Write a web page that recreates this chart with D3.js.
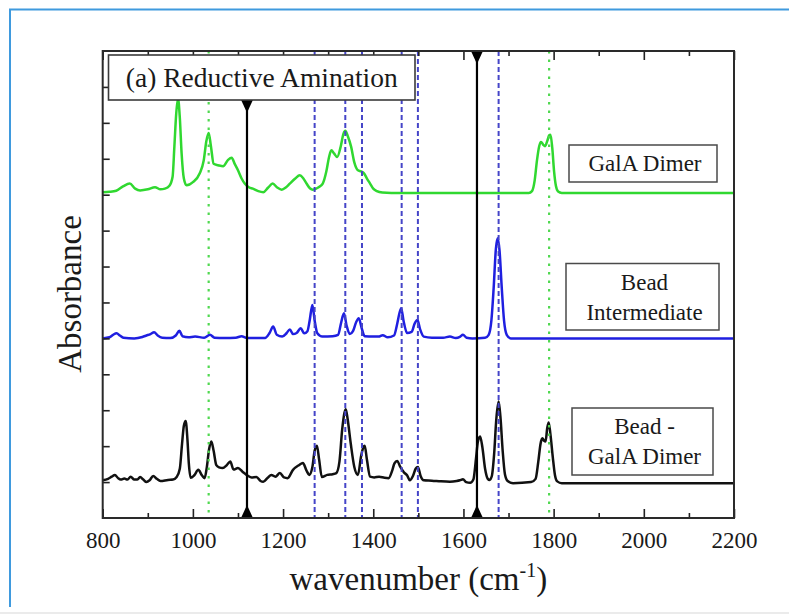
<!DOCTYPE html>
<html>
<head>
<meta charset="utf-8">
<script src="https://cdn.jsdelivr.net/npm/d3@7"></script>
<style>
  html, body { margin: 0; padding: 0; background: #fff; }
  svg { display: block; }
</style>
</head>
<body>
<svg id="chart" width="789" height="616"></svg>
<script>
// ---- FTIR spectra: [wavenumber (cm^-1), absorbance above the trace's own baseline] ----
const galaDimer = [
  [800,0.02],[815,0.03],[830,0.06],[845,0.18],[860,0.26],[872,0.12],[883,0.07],[900,0.1],
  [916,0.16],[928,0.1],[938,0.12],[948,0.2],[955,0.45],[959,1.3],[963,2.2],[967,2.63],
  [971,2.1],[975,1.1],[980,0.4],[986,0.21],[1000,0.3],[1015,0.54],[1024,0.9],[1030,1.45],
  [1035,1.67],[1040,1.3],[1046,0.81],[1056,0.77],[1067,0.74],[1078,0.92],[1086,0.98],
  [1093,0.8],[1100,0.63],[1108,0.4],[1115,0.26],[1125,0.15],[1133,0.12],[1145,0.05],
  [1156,0.02],[1167,0.15],[1177,0.26],[1187,0.15],[1197,0.09],[1206,0.15],[1215,0.26],
  [1227,0.4],[1237,0.49],[1245,0.4],[1252,0.26],[1260,0.12],[1266,0.09],[1278,0.15],
  [1288,0.26],[1296,0.6],[1302,1.0],[1307,1.19],[1313,1.1],[1320,1.0],[1328,1.3],
  [1334,1.65],[1338,1.73],[1343,1.6],[1351,1.28],[1358,0.85],[1366,0.63],[1373,0.6],
  [1379,0.55],[1386,0.4],[1393,0.26],[1400,0.12],[1408,0.05],[1420,0.01],[1440,0],
  [1745,0],[1752,0.05],[1758,0.35],[1763,0.9],[1768,1.3],[1772,1.42],[1777,1.34],
  [1781,1.3],[1786,1.45],[1790,1.6],[1793,1.62],[1797,1.25],[1801,0.6],[1805,0.2],
  [1810,0.04],[1818,0],[2200,0]
];

const beadIntermediate = [
  [800,0],[815,0.03],[823,0.1],[831,0.14],[838,0.08],[846,0.02],[870,0],[888,0.04],
  [897,0.08],[906,0.12],[914,0.17],[922,0.08],[932,0.02],[950,0.01],[962,0.08],[970,0.21],
  [977,0.06],[990,0.03],[1005,0.05],[1025,0.02],[1038,0.1],[1048,0.02],[1070,0.01],
  [1095,0.02],[1108,0.06],[1120,0.01],[1160,0.01],[1170,0.15],[1178,0.33],[1186,0.1],
  [1198,0.05],[1208,0.15],[1215,0.25],[1222,0.12],[1230,0.15],[1239,0.28],[1247,0.14],
  [1254,0.2],[1259,0.5],[1265,0.93],[1270,0.5],[1276,0.14],[1287,0.05],[1310,0.06],
  [1322,0.1],[1329,0.45],[1335,0.7],[1341,0.35],[1348,0.12],[1355,0.2],[1362,0.45],
  [1368,0.56],[1374,0.3],[1381,0.06],[1400,0.05],[1412,0.05],[1421,0.09],[1432,0.03],
  [1446,0.08],[1453,0.4],[1458,0.7],[1462,0.84],[1467,0.5],[1475,0.15],[1485,0.18],
  [1492,0.42],[1498,0.51],[1504,0.25],[1512,0.05],[1530,0.02],[1555,0.02],[1570,0.05],
  [1583,0.01],[1592,0.04],[1599,0.1],[1607,0.02],[1620,0],[1648,0.02],[1656,0.1],
  [1662,0.5],[1667,1.4],[1672,2.5],[1676,2.79],[1680,2.45],[1685,1.4],[1690,0.5],
  [1696,0.1],[1705,0],[2200,0]
];

const beadMinusGala = [
  [800,0.08],[812,0.12],[820,0.18],[827,0.23],[834,0.14],[840,0.1],[848,0.13],[855,0.1],
  [862,0.18],[870,0.1],[877,0.1],[883,0.17],[890,0.1],[897,0.03],[904,0.08],[912,0.2],
  [920,0.12],[928,0.06],[945,0.09],[956,0.1],[964,0.17],[971,0.4],[976,1.1],[980,1.6],
  [984,1.73],[988,1.2],[991,0.55],[995,0.15],[1003,0.22],[1012,0.37],[1020,0.22],
  [1026,0.14],[1031,0.45],[1036,0.95],[1041,1.16],[1046,0.9],[1052,0.5],[1058,0.44],
  [1066,0.42],[1075,0.5],[1083,0.6],[1090,0.38],[1100,0.42],[1110,0.32],[1119,0.23],
  [1130,0.16],[1141,0.17],[1150,0.06],[1156,0.04],[1166,0.15],[1174,0.23],[1183,0.18],
  [1193,0.28],[1202,0.16],[1210,0.14],[1222,0.37],[1235,0.5],[1244,0.56],[1252,0.35],
  [1258,0.23],[1265,0.45],[1270,0.9],[1275,1.04],[1280,0.65],[1286,0.17],[1298,0.23],
  [1310,0.25],[1318,0.28],[1325,0.6],[1331,1.48],[1336,1.95],[1339,2.06],[1343,1.8],
  [1350,1.11],[1358,0.45],[1366,0.23],[1373,0.75],[1378,1.0],[1381,1.04],[1386,0.65],
  [1393,0.18],[1402,0.16],[1413,0.18],[1425,0.15],[1434,0.14],[1442,0.35],[1447,0.55],
  [1453,0.62],[1460,0.45],[1468,0.3],[1475,0.22],[1481,0.08],[1488,0.2],[1494,0.4],
  [1499,0.45],[1505,0.2],[1512,0.08],[1530,0.07],[1550,0.05],[1570,0.04],[1585,0.06],
  [1592,0.08],[1599,0.11],[1606,0.03],[1615,0.01],[1622,0.1],[1628,0.7],[1632,1.15],
  [1637,1.3],[1642,1.0],[1648,0.4],[1654,0.12],[1658,0.09],[1663,0.2],[1668,0.8],
  [1673,1.8],[1678,2.27],[1682,1.85],[1687,0.9],[1692,0.25],[1698,0.06],[1710,0],
  [1750,0.03],[1760,0.12],[1766,0.6],[1771,1.1],[1775,1.25],[1779,1.18],[1782,1.16],
  [1786,1.55],[1789,1.69],[1793,1.35],[1798,0.74],[1803,0.22],[1808,0.05],[1818,0],[2200,0]
];

// vertical stacking offsets of the three traces (absorbance units)
const traceOffsets = [9.05, 5.0, 0.97];
const traceColors = ["#30d830", "#1f1fe0", "#111111"];
const traceLabels = [["GalA Dimer"], ["Bead", "Intermediate"], ["Bead -", "GalA Dimer"]];

// guide lines (cm^-1)
const blueGuides = [1270, 1338, 1375, 1463, 1499, 1678];
const greenGuides = [1035, 1790];
const blackMarkers = [1120, 1630];
const blackMarkerTops = [11.64, 13];

// axes
const xDomain = [800, 2200];
const yDomain = [0, 13];
const xMajorTicks = [800, 1000, 1200, 1400, 1600, 1800, 2000, 2200];
const xMinorTicks = [900, 1100, 1300, 1500, 1700, 1900, 2100];
const yTicks = [1, 2, 3, 4, 5, 6, 7, 8, 9, 10, 11, 12];

const panelTitle = "(a) Reductive Amination";
const xTitle = "wavenumber (cm";
const xTitleSup = "-1";
const yTitle = "Absorbance";

// ---- layout ----
const SERIF = "'Liberation Serif', 'Times New Roman', Times, serif";
const plot = { left: 102.7, right: 734, top: 51, bottom: 518 };
const svg = d3.select("#chart");

const x = d3.scaleLinear().domain(xDomain).range([plot.left, plot.right]);
const y = d3.scaleLinear().domain(yDomain).range([plot.bottom, plot.top]);

const addText = (sel, str, size) => sel.append("text")
  .attr("font-family", SERIF).style("font-family", SERIF)
  .attr("font-size", size).attr("fill", "#1a1a1a").text(str);

// page border of the figure panel
svg.append("rect").attr("width", 789).attr("height", 616).attr("fill", "#fff");
svg.append("path").attr("d", "M10,607V9.5H789")
  .attr("fill", "none").attr("stroke", "#3f9ade").attr("stroke-width", 2);
svg.append("line").attr("x1", 0).attr("x2", 789).attr("y1", 613).attr("y2", 613)
  .attr("stroke", "#e4e4e4").attr("stroke-width", 1.5);

// traces
const series = [galaDimer, beadIntermediate, beadMinusGala];
const gTraces = svg.append("g");
series.forEach((pts, i) => {
  const line = d3.line()
    .x(d => x(d[0]))
    .y(d => y(d[1] + traceOffsets[i]))
    .curve(d3.curveMonotoneX);
  gTraces.append("path")
    .datum(pts)
    .attr("d", line)
    .attr("fill", "none")
    .attr("stroke", traceColors[i])
    .attr("stroke-width", 2.5)
    .attr("stroke-linejoin", "round");
});

// guide lines
const gGuides = svg.append("g");
gGuides.selectAll("line.blue").data(blueGuides).join("line")
  .attr("class", "blue")
  .attr("x1", d => x(d)).attr("x2", d => x(d))
  .attr("y1", y(yDomain[1])).attr("y2", y(yDomain[0]))
  .attr("stroke", "#4545c8").attr("stroke-width", 2)
  .attr("stroke-dasharray", "5,3");
gGuides.selectAll("line.green").data(greenGuides).join("line")
  .attr("class", "green")
  .attr("x1", d => x(d)).attr("x2", d => x(d))
  .attr("y1", y(yDomain[1])).attr("y2", y(yDomain[0]))
  .attr("stroke", "#4fd84f").attr("stroke-width", 2.2)
  .attr("stroke-dasharray", "2.5,6");

// black marker lines with triangular arrowheads
blackMarkers.forEach((w, i) => {
  const px = x(w), top = y(blackMarkerTops[i]), bot = y(yDomain[0]);
  gGuides.append("line")
    .attr("x1", px).attr("x2", px).attr("y1", top).attr("y2", bot)
    .attr("stroke", "#000").attr("stroke-width", 2.2);
  gGuides.append("path")
    .attr("d", `M${px - 6},${top}L${px + 6},${top}L${px},${top + 13}Z`)
    .attr("fill", "#000");
  gGuides.append("path")
    .attr("d", `M${px - 6},${bot}L${px + 6},${bot}L${px},${bot - 13}Z`)
    .attr("fill", "#000");
});

// axes (ticks point inward)
const axisStyle = g => {
  g.select(".domain").remove();
  g.selectAll(".tick line").attr("stroke", "#222").attr("stroke-width", 1.6);
};
svg.append("g").attr("transform", `translate(0,${plot.bottom})`)
  .call(d3.axisBottom(x).tickValues(xMajorTicks).tickSize(-9).tickPadding(14)
    .tickFormat(d3.format("d")))
  .call(axisStyle)
  .attr("font-family", SERIF)
  .call(g => g.selectAll("text")
    .attr("font-size", 23).attr("fill", "#1a1a1a")
    .attr("font-family", SERIF).style("font-family", SERIF));
svg.append("g").attr("transform", `translate(0,${plot.bottom})`)
  .call(d3.axisBottom(x).tickValues(xMinorTicks).tickSize(-5).tickFormat(""))
  .call(axisStyle);
svg.append("g").attr("transform", `translate(0,${plot.top})`)
  .call(d3.axisTop(x).tickValues(xMajorTicks).tickSize(-9).tickFormat(""))
  .call(axisStyle);
svg.append("g").attr("transform", `translate(0,${plot.top})`)
  .call(d3.axisTop(x).tickValues(xMinorTicks).tickSize(-5).tickFormat(""))
  .call(axisStyle);
svg.append("g").attr("transform", `translate(${plot.left},0)`)
  .call(d3.axisLeft(y).tickValues(yTicks).tickSize(-7).tickFormat(""))
  .call(axisStyle);

// frame
svg.append("rect")
  .attr("x", plot.left).attr("y", plot.top)
  .attr("width", plot.right - plot.left).attr("height", plot.bottom - plot.top)
  .attr("fill", "none").attr("stroke", "#2a2a2a").attr("stroke-width", 2);

// panel title box
const tb = { x: 108.5, y: 55, w: 306.5, h: 45 };
svg.append("rect").attr("x", tb.x).attr("y", tb.y).attr("width", tb.w).attr("height", tb.h)
  .attr("fill", "#fff").attr("stroke", "#3a3a3a").attr("stroke-width", 1.6);
addText(svg, panelTitle, 27.5)
  .attr("x", tb.x + tb.w / 2).attr("y", 87).attr("text-anchor", "middle");

// trace label boxes
const labelBoxes = [
  { x: 569, y: 145, w: 148, h: 37, base: [171] },
  { x: 566, y: 263.5, w: 153, h: 66.5, base: [290, 319.5] },
  { x: 572, y: 408, w: 141, h: 67, base: [434, 464] }
];
labelBoxes.forEach((b, i) => {
  svg.append("rect").attr("x", b.x).attr("y", b.y).attr("width", b.w).attr("height", b.h)
    .attr("fill", "#fff").attr("stroke", "#4a4a4a").attr("stroke-width", 1.5);
  traceLabels[i].forEach((t, j) => {
    addText(svg, t, 23)
      .attr("x", b.x + b.w / 2 + 2).attr("y", b.base[j]).attr("text-anchor", "middle");
  });
});

// axis titles
const xt = addText(svg, null, 33)
  .attr("x", (plot.left + plot.right) / 2).attr("y", 590)
  .attr("text-anchor", "middle");
xt.append("tspan").text(xTitle);
xt.append("tspan").attr("font-size", 20).attr("dy", -13).text(xTitleSup);
xt.append("tspan").attr("dy", 13).text(")");

addText(svg, yTitle, 33)
  .attr("transform", `translate(81,294) rotate(-90)`)
  .attr("text-anchor", "middle");
</script>
</body>
</html>
